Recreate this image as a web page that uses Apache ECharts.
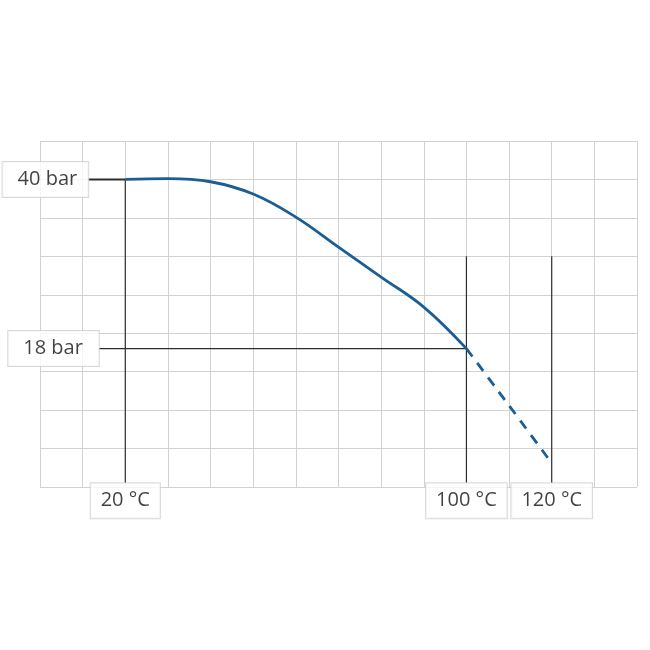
<!DOCTYPE html>
<html>
<head>
<meta charset="utf-8">
<script src="https://cdn.jsdelivr.net/npm/echarts@6/dist/echarts.min.js"></script>
<style>
  html, body { margin: 0; padding: 0; background: #fff; }
  #chart { width: 650px; height: 650px; }
</style>
</head>
<body>
<div id="chart"></div>
<script>
// curve data (temperature in °C, pressure in bar)
var temps = [20, 30, 40, 50, 60, 70, 80, 90, 100];
var pressure = [40, 40.1, 39.7, 38.1, 35.1, 31.2, 27.3, 23.4, 18];
// extrapolated (dashed) part
var tempsExtra = [100, 110, 120];
var pressureExtra = [18, 10.6, 3.1];

// axis ranges
var xMin = 0, xMax = 140, xStep = 10;
var yMin = 0, yMax = 45, yStep = 5;

// marked values
var markTemps = [20, 100, 120];
var markTempLabels = ['20 °C', '100 °C', '120 °C'];
var markPressures = [40, 18];
var markPressureLabels = ['40 bar', '18 bar'];
var markPressureStart = [11.3, 13.8];   // where the label boxes end
var markTempTop = [40, 30, 30];         // vertical lines start here
var lineFoot = 0.5;                     // just above the bottom

function zip(a, b) {
  return a.map(function (v, i) { return [v, b[i]]; });
}

var chart = echarts.init(document.getElementById('chart'));

var dark = '#2e2e2e';
var blue = '#1b5e94';
var labelBox = {
  show: true,
  color: '#111',
  fontFamily: 'Open Sans',
  fontSize: 20,
  lineHeight: 23,
  backgroundColor: '#fff',
  borderColor: '#cfcfcf',
  borderWidth: 1,
  distance: 0
};

var series = [];

// horizontal reference lines
markPressures.forEach(function (p, i) {
  series.push({
    type: 'line',
    data: [[markPressureStart[i], p], [i === 0 ? markTemps[0] : markTemps[1], p]],
    symbol: 'none',
    silent: true,
    lineStyle: { color: dark, width: i === 0 ? 2 : 1.2 },
    z: 3
  });
});

// vertical reference lines
markTemps.forEach(function (t, i) {
  series.push({
    type: 'line',
    data: [[t, markTempTop[i]], [t, lineFoot]],
    symbol: 'none',
    silent: true,
    lineStyle: { color: dark, width: 1.2 },
    z: 3
  });
});

// main curve
series.push({
  type: 'line',
  data: zip(temps, pressure),
  smooth: 0.4,
  symbol: 'none',
  lineStyle: { color: blue, width: 2.8 },
  z: 5
});

// dashed extrapolation
series.push({
  type: 'line',
  data: zip(tempsExtra, pressureExtra),
  smooth: 0.2,
  symbol: 'none',
  lineStyle: { color: blue, width: 2.8, type: [10, 8] },
  z: 5
});

// label boxes
var labelData = [];
markPressures.forEach(function (p, i) {
  labelData.push({
    value: [markPressureStart[i], p],
    label: Object.assign({}, labelBox, {
      position: 'left',
      formatter: markPressureLabels[i],
      padding: i === 0 ? [6, 11, 6, 15] : [6, 16, 6, 15]
    })
  });
});
markTemps.forEach(function (t, i) {
  labelData.push({
    value: [t, lineFoot],
    label: Object.assign({}, labelBox, {
      position: 'bottom',
      formatter: markTempLabels[i],
      padding: [6, 10, 6, 10]
    })
  });
});
series.push({
  type: 'scatter',
  data: labelData,
  symbolSize: 0,
  silent: true,
  z: 10
});

chart.setOption({
  animation: false,
  grid: { left: 40, top: 141, right: 13, bottom: 163 },
  xAxis: {
    type: 'value',
    min: xMin, max: xMax, interval: xStep,
    axisLine: { show: false },
    axisTick: { show: false },
    axisLabel: { show: false },
    splitLine: { show: true, lineStyle: { color: '#d2d2d2', width: 1 } }
  },
  yAxis: {
    type: 'value',
    min: yMin, max: yMax, interval: yStep,
    axisLine: { show: false },
    axisTick: { show: false },
    axisLabel: { show: false },
    splitLine: { show: true, lineStyle: { color: '#d2d2d2', width: 1 } }
  },
  series: series
});
</script>
</body>
</html>
